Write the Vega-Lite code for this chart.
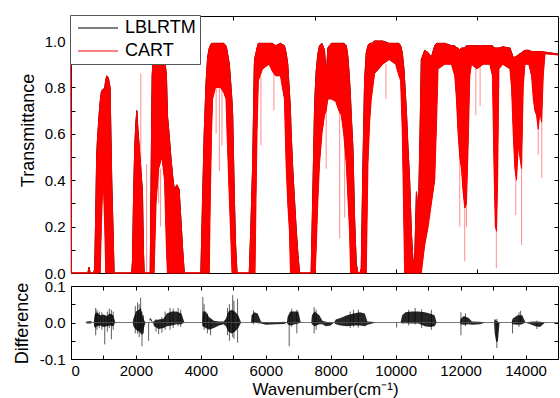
{
  "$schema": "https://vega.github.io/schema/vega-lite/v6.json",
  "padding": {"left": 12, "top": 14, "right": 0, "bottom": 0},
  "bounds": "flush",
  "spacing": 13,
  "config": {
    "font": "Liberation Sans",
    "view": {"stroke": "black", "strokeWidth": 1},
    "axis": {
      "grid": false, "domain": false, "tickColor": "black", "tickSize": -4, "tickWidth": 1,
      "labelFont": "Liberation Sans", "labelFontSize": 15, "labelColor": "black",
      "titleFont": "Liberation Sans", "titleFontSize": 18, "titleFontWeight": "normal", "titleColor": "black"
    }
  },
  "datasets": {
    "core": [
      {"x": 0, "lo": 0, "hi": 1.0}, {"x": 12, "lo": 0, "hi": 0}, {"x": 520, "lo": 0, "hi": 0}, {"x": 555, "lo": 0, "hi": 0.025}, {"x": 590, "lo": 0, "hi": 0},
      {"x": 700, "lo": 0, "hi": 0}, {"x": 730, "lo": 0, "hi": 0.02}, {"x": 761, "lo": 0, "hi": 0.25}, {"x": 790, "lo": 0, "hi": 0.5}, {"x": 813, "lo": 0, "hi": 0.57},
      {"x": 864, "lo": 0, "hi": 0.68}, {"x": 900, "lo": 0, "hi": 0.74}, {"x": 936, "lo": 0.2, "hi": 0.78}, {"x": 970, "lo": 0.35, "hi": 0.79}, {"x": 998, "lo": 0.38, "hi": 0.79},
      {"x": 1039, "lo": 0.2, "hi": 0.8}, {"x": 1070, "lo": 0, "hi": 0.83}, {"x": 1100, "lo": 0, "hi": 0.85}, {"x": 1152, "lo": 0, "hi": 0.84}, {"x": 1203, "lo": 0, "hi": 0.8},
      {"x": 1224, "lo": 0, "hi": 0.64}, {"x": 1255, "lo": 0, "hi": 0.4}, {"x": 1296, "lo": 0, "hi": 0.18}, {"x": 1327, "lo": 0, "hi": 0},
      {"x": 1870, "lo": 0, "hi": 0}, {"x": 1893, "lo": 0, "hi": 0.05}, {"x": 1930, "lo": 0, "hi": 0.35}, {"x": 1965, "lo": 0, "hi": 0.55}, {"x": 2000, "lo": 0, "hi": 0.65},
      {"x": 2027, "lo": 0, "hi": 0.7}, {"x": 2060, "lo": 0, "hi": 0.62}, {"x": 2098, "lo": 0, "hi": 0.55}, {"x": 2150, "lo": 0, "hi": 0.45}, {"x": 2201, "lo": 0, "hi": 0.35},
      {"x": 2230, "lo": 0, "hi": 0.1}, {"x": 2253, "lo": 0, "hi": 0},
      {"x": 2440, "lo": 0, "hi": 0}, {"x": 2470, "lo": 0, "hi": 0.45}, {"x": 2500, "lo": 0, "hi": 0.85}, {"x": 2540, "lo": 0, "hi": 0.95}, {"x": 2560, "lo": 0, "hi": 0.97},
      {"x": 2620, "lo": 0.3, "hi": 0.97}, {"x": 2700, "lo": 0.45, "hi": 0.97}, {"x": 2800, "lo": 0.5, "hi": 0.97}, {"x": 2880, "lo": 0.4, "hi": 0.93}, {"x": 2940, "lo": 0.1, "hi": 0.85},
      {"x": 2970, "lo": 0, "hi": 0.68}, {"x": 3020, "lo": 0, "hi": 0.6}, {"x": 3076, "lo": 0, "hi": 0.5}, {"x": 3130, "lo": 0, "hi": 0.42}, {"x": 3180, "lo": 0, "hi": 0.36},
      {"x": 3260, "lo": 0, "hi": 0.38}, {"x": 3330, "lo": 0, "hi": 0.36}, {"x": 3390, "lo": 0, "hi": 0.22}, {"x": 3440, "lo": 0, "hi": 0.1}, {"x": 3490, "lo": 0, "hi": 0},
      {"x": 4000, "lo": 0, "hi": 0}, {"x": 4053, "lo": 0, "hi": 0.32}, {"x": 4105, "lo": 0, "hi": 0.61}, {"x": 4160, "lo": 0, "hi": 0.82}, {"x": 4208, "lo": 0, "hi": 0.93},
      {"x": 4259, "lo": 0, "hi": 0.97}, {"x": 4290, "lo": 0.32, "hi": 0.98}, {"x": 4331, "lo": 0.61, "hi": 0.99}, {"x": 4362, "lo": 0.75, "hi": 0.99}, {"x": 4450, "lo": 0.8, "hi": 0.99},
      {"x": 4600, "lo": 0.8, "hi": 0.99}, {"x": 4700, "lo": 0.78, "hi": 0.99}, {"x": 4774, "lo": 0.75, "hi": 0.98}, {"x": 4805, "lo": 0.61, "hi": 0.96}, {"x": 4877, "lo": 0.32, "hi": 0.9},
      {"x": 4930, "lo": 0.12, "hi": 0.8}, {"x": 4959, "lo": 0, "hi": 0.74}, {"x": 4980, "lo": 0, "hi": 0.68}, {"x": 5032, "lo": 0, "hi": 0.32}, {"x": 5070, "lo": 0, "hi": 0.12},
      {"x": 5114, "lo": 0, "hi": 0},
      {"x": 5490, "lo": 0, "hi": 0}, {"x": 5540, "lo": 0, "hi": 0.2}, {"x": 5596, "lo": 0, "hi": 0.47}, {"x": 5647, "lo": 0, "hi": 0.9}, {"x": 5668, "lo": 0, "hi": 0.93},
      {"x": 5699, "lo": 0.32, "hi": 0.95}, {"x": 5730, "lo": 0.61, "hi": 0.97}, {"x": 5771, "lo": 0.83, "hi": 0.99}, {"x": 5900, "lo": 0.88, "hi": 0.99}, {"x": 6100, "lo": 0.9, "hi": 0.99},
      {"x": 6200, "lo": 0.87, "hi": 0.99}, {"x": 6300, "lo": 0.85, "hi": 0.98}, {"x": 6450, "lo": 0.85, "hi": 0.99}, {"x": 6573, "lo": 0.75, "hi": 0.98}, {"x": 6625, "lo": 0.47, "hi": 0.95},
      {"x": 6676, "lo": 0.3, "hi": 0.9}, {"x": 6728, "lo": 0.18, "hi": 0.78}, {"x": 6759, "lo": 0, "hi": 0.7}, {"x": 6779, "lo": 0, "hi": 0.61}, {"x": 6830, "lo": 0, "hi": 0.45},
      {"x": 6882, "lo": 0, "hi": 0.32}, {"x": 6940, "lo": 0, "hi": 0.18}, {"x": 6990, "lo": 0, "hi": 0.08}, {"x": 7040, "lo": 0, "hi": 0},
      {"x": 7397, "lo": 0, "hi": 0}, {"x": 7449, "lo": 0, "hi": 0.35}, {"x": 7500, "lo": 0, "hi": 0.7}, {"x": 7520, "lo": 0, "hi": 0.78}, {"x": 7552, "lo": 0.1, "hi": 0.87},
      {"x": 7600, "lo": 0.3, "hi": 0.94}, {"x": 7654, "lo": 0.47, "hi": 0.98}, {"x": 7730, "lo": 0.6, "hi": 0.99}, {"x": 7808, "lo": 0.68, "hi": 0.96}, {"x": 7860, "lo": 0.7, "hi": 0.84},
      {"x": 7911, "lo": 0.75, "hi": 0.97}, {"x": 8017, "lo": 0.75, "hi": 0.99}, {"x": 8150, "lo": 0.74, "hi": 0.99}, {"x": 8250, "lo": 0.7, "hi": 0.99}, {"x": 8325, "lo": 0.68, "hi": 0.99},
      {"x": 8400, "lo": 0.6, "hi": 0.99}, {"x": 8480, "lo": 0.47, "hi": 0.98}, {"x": 8530, "lo": 0.32, "hi": 0.93}, {"x": 8580, "lo": 0.18, "hi": 0.83}, {"x": 8611, "lo": 0, "hi": 0.75},
      {"x": 8632, "lo": 0, "hi": 0.68}, {"x": 8683, "lo": 0, "hi": 0.54}, {"x": 8734, "lo": 0, "hi": 0.24}, {"x": 8786, "lo": 0, "hi": 0.04}, {"x": 8837, "lo": 0, "hi": 0},
      {"x": 8900, "lo": 0, "hi": 0}, {"x": 8940, "lo": 0, "hi": 0.02}, {"x": 8992, "lo": 0, "hi": 0.47}, {"x": 9043, "lo": 0, "hi": 0.83}, {"x": 9095, "lo": 0, "hi": 0.95},
      {"x": 9146, "lo": 0.47, "hi": 0.98}, {"x": 9198, "lo": 0.65, "hi": 0.99}, {"x": 9249, "lo": 0.75, "hi": 0.99}, {"x": 9352, "lo": 0.86, "hi": 1.0}, {"x": 9600, "lo": 0.9, "hi": 1.0},
      {"x": 9800, "lo": 0.92, "hi": 0.99}, {"x": 10000, "lo": 0.9, "hi": 0.99}, {"x": 10100, "lo": 0.85, "hi": 0.99}, {"x": 10152, "lo": 0.83, "hi": 0.98}, {"x": 10204, "lo": 0.61, "hi": 0.95},
      {"x": 10255, "lo": 0.18, "hi": 0.88}, {"x": 10276, "lo": 0, "hi": 0.83}, {"x": 10330, "lo": 0, "hi": 0.7}, {"x": 10379, "lo": 0, "hi": 0.54}, {"x": 10430, "lo": 0, "hi": 0.4},
      {"x": 10482, "lo": 0, "hi": 0.18}, {"x": 10530, "lo": 0, "hi": 0.06}, {"x": 10585, "lo": 0, "hi": 0.05}, {"x": 10640, "lo": 0, "hi": 0.35}, {"x": 10700, "lo": 0, "hi": 0.25},
      {"x": 10750, "lo": 0, "hi": 0.6}, {"x": 10790, "lo": 0, "hi": 0.92}, {"x": 10894, "lo": 0.12, "hi": 0.96}, {"x": 11000, "lo": 0.2, "hi": 0.95}, {"x": 11100, "lo": 0.3, "hi": 0.93},
      {"x": 11203, "lo": 0.4, "hi": 0.98}, {"x": 11260, "lo": 0.65, "hi": 0.99}, {"x": 11305, "lo": 0.88, "hi": 0.99}, {"x": 11511, "lo": 0.9, "hi": 0.99}, {"x": 11717, "lo": 0.9, "hi": 0.98},
      {"x": 11820, "lo": 0.85, "hi": 0.98}, {"x": 11871, "lo": 0.75, "hi": 0.97}, {"x": 11923, "lo": 0.6, "hi": 0.97}, {"x": 11974, "lo": 0.5, "hi": 0.96}, {"x": 12026, "lo": 0.45, "hi": 0.97},
      {"x": 12077, "lo": 0.35, "hi": 0.97}, {"x": 12128, "lo": 0.28, "hi": 0.97}, {"x": 12180, "lo": 0.3, "hi": 0.98}, {"x": 12232, "lo": 0.55, "hi": 0.98}, {"x": 12283, "lo": 0.85, "hi": 0.98},
      {"x": 12335, "lo": 0.9, "hi": 0.98}, {"x": 12500, "lo": 0.88, "hi": 0.98}, {"x": 12700, "lo": 0.9, "hi": 0.98}, {"x": 12900, "lo": 0.9, "hi": 0.98}, {"x": 12980, "lo": 0.85, "hi": 0.98},
      {"x": 13030, "lo": 0.45, "hi": 0.97}, {"x": 13070, "lo": 0.2, "hi": 0.97}, {"x": 13107, "lo": 0.18, "hi": 0.97}, {"x": 13140, "lo": 0.4, "hi": 0.97}, {"x": 13180, "lo": 0.88, "hi": 0.97},
      {"x": 13300, "lo": 0.9, "hi": 0.975}, {"x": 13518, "lo": 0.88, "hi": 0.97}, {"x": 13569, "lo": 0.8, "hi": 0.95}, {"x": 13621, "lo": 0.6, "hi": 0.93}, {"x": 13672, "lo": 0.45, "hi": 0.93},
      {"x": 13723, "lo": 0.4, "hi": 0.935}, {"x": 13775, "lo": 0.55, "hi": 0.94}, {"x": 13826, "lo": 0.5, "hi": 0.945}, {"x": 13877, "lo": 0.45, "hi": 0.95}, {"x": 13929, "lo": 0.8, "hi": 0.955},
      {"x": 13981, "lo": 0.9, "hi": 0.96}, {"x": 14100, "lo": 0.9, "hi": 0.96}, {"x": 14186, "lo": 0.85, "hi": 0.955}, {"x": 14240, "lo": 0.75, "hi": 0.955}, {"x": 14289, "lo": 0.7, "hi": 0.955},
      {"x": 14340, "lo": 0.68, "hi": 0.955}, {"x": 14392, "lo": 0.62, "hi": 0.955}, {"x": 14443, "lo": 0.7, "hi": 0.955}, {"x": 14495, "lo": 0.65, "hi": 0.955}, {"x": 14546, "lo": 0.85, "hi": 0.953},
      {"x": 14600, "lo": 0.945, "hi": 0.952}, {"x": 15000, "lo": 0.94, "hi": 0.944}
    ],
    "tspk": [
      {"x": 2150, "lo": 0.3, "hi": 0.86}, {"x": 2330, "lo": 0, "hi": 0.47}, {"x": 2700, "lo": 0.3, "hi": 0.55}, {"x": 2760, "lo": 0.2, "hi": 0.45},
      {"x": 4470, "lo": 0.6, "hi": 0.8}, {"x": 4570, "lo": 0.44, "hi": 0.8}, {"x": 4650, "lo": 0.55, "hi": 0.8}, {"x": 5850, "lo": 0.55, "hi": 0.85},
      {"x": 6250, "lo": 0.7, "hi": 0.88}, {"x": 7860, "lo": 0.45, "hi": 0.75}, {"x": 8275, "lo": 0.15, "hi": 0.7}, {"x": 8430, "lo": 0.24, "hi": 0.6},
      {"x": 9700, "lo": 0.75, "hi": 0.9}, {"x": 11974, "lo": 0.2, "hi": 0.5}, {"x": 12128, "lo": 0.05, "hi": 0.3}, {"x": 12180, "lo": 0.2, "hi": 0.35},
      {"x": 12470, "lo": 0.68, "hi": 0.92}, {"x": 12600, "lo": 0.72, "hi": 0.92}, {"x": 13100, "lo": 0.02, "hi": 0.2}, {"x": 13700, "lo": 0.25, "hi": 0.5},
      {"x": 13880, "lo": 0.12, "hi": 0.5}, {"x": 14390, "lo": 0.51, "hi": 0.7}, {"x": 14500, "lo": 0.41, "hi": 0.7}
    ],
    "diff": [
      {"x": 0, "dlo": 0, "dhi": 0}, {"x": 470, "dlo": 0, "dhi": 0}, {"x": 480, "dlo": -0.003, "dhi": 0.003}, {"x": 620, "dlo": -0.003, "dhi": 0.004}, {"x": 640, "dlo": 0, "dhi": 0},
      {"x": 700, "dlo": 0, "dhi": 0}, {"x": 712, "dlo": -0.01, "dhi": 0.01}, {"x": 740, "dlo": -0.015, "dhi": 0.025}, {"x": 800, "dlo": -0.01, "dhi": 0.028}, {"x": 900, "dlo": -0.008, "dhi": 0.02},
      {"x": 1000, "dlo": -0.012, "dhi": 0.022}, {"x": 1100, "dlo": -0.01, "dhi": 0.018}, {"x": 1200, "dlo": -0.008, "dhi": 0.025}, {"x": 1300, "dlo": -0.01, "dhi": 0.02}, {"x": 1367, "dlo": 0, "dhi": 0},
      {"x": 1900, "dlo": 0, "dhi": 0}, {"x": 1920, "dlo": -0.01, "dhi": 0.01}, {"x": 2000, "dlo": -0.02, "dhi": 0.03}, {"x": 2100, "dlo": -0.025, "dhi": 0.035}, {"x": 2150, "dlo": -0.03, "dhi": 0.04},
      {"x": 2200, "dlo": -0.035, "dhi": 0.02}, {"x": 2260, "dlo": -0.01, "dhi": 0.005}, {"x": 2300, "dlo": 0, "dhi": 0}, {"x": 2400, "dlo": 0, "dhi": 0}, {"x": 2430, "dlo": 0.008, "dhi": 0.013},
      {"x": 2480, "dlo": 0.003, "dhi": 0.008}, {"x": 2520, "dlo": 0, "dhi": 0}, {"x": 2560, "dlo": -0.01, "dhi": 0.005}, {"x": 2700, "dlo": -0.018, "dhi": 0.008}, {"x": 2850, "dlo": -0.015, "dhi": 0.01},
      {"x": 2950, "dlo": -0.01, "dhi": 0.025}, {"x": 3100, "dlo": -0.008, "dhi": 0.03}, {"x": 3250, "dlo": -0.005, "dhi": 0.03}, {"x": 3400, "dlo": -0.005, "dhi": 0.025}, {"x": 3495, "dlo": 0, "dhi": 0},
      {"x": 4040, "dlo": 0, "dhi": 0}, {"x": 4060, "dlo": -0.01, "dhi": 0.03}, {"x": 4150, "dlo": -0.015, "dhi": 0.03}, {"x": 4250, "dlo": -0.02, "dhi": 0.015}, {"x": 4400, "dlo": -0.015, "dhi": 0.005},
      {"x": 4560, "dlo": -0.008, "dhi": 0.003}, {"x": 4700, "dlo": -0.005, "dhi": 0.003}, {"x": 4770, "dlo": -0.01, "dhi": 0.01}, {"x": 4850, "dlo": -0.025, "dhi": 0.03}, {"x": 4950, "dlo": -0.03, "dhi": 0.035},
      {"x": 5050, "dlo": -0.025, "dhi": 0.03}, {"x": 5150, "dlo": -0.015, "dhi": 0.02}, {"x": 5240, "dlo": 0, "dhi": 0}, {"x": 5545, "dlo": 0, "dhi": 0}, {"x": 5560, "dlo": -0.002, "dhi": 0.02},
      {"x": 5650, "dlo": 0, "dhi": 0.028}, {"x": 5750, "dlo": -0.002, "dhi": 0.025}, {"x": 5855, "dlo": -0.003, "dhi": 0.002}, {"x": 6000, "dlo": -0.006, "dhi": 0.001}, {"x": 6300, "dlo": -0.005, "dhi": 0.001},
      {"x": 6570, "dlo": -0.004, "dhi": 0.002}, {"x": 6650, "dlo": 0, "dhi": 0}, {"x": 6670, "dlo": -0.005, "dhi": 0.015}, {"x": 6750, "dlo": -0.008, "dhi": 0.03}, {"x": 6900, "dlo": -0.005, "dhi": 0.03},
      {"x": 7000, "dlo": -0.003, "dhi": 0.03}, {"x": 7078, "dlo": 0, "dhi": 0}, {"x": 7400, "dlo": 0, "dhi": 0}, {"x": 7420, "dlo": -0.005, "dhi": 0.02}, {"x": 7500, "dlo": -0.01, "dhi": 0.03},
      {"x": 7650, "dlo": -0.005, "dhi": 0.02}, {"x": 7744, "dlo": -0.005, "dhi": 0.005}, {"x": 7850, "dlo": -0.01, "dhi": 0.002}, {"x": 8000, "dlo": -0.008, "dhi": 0}, {"x": 8100, "dlo": 0, "dhi": 0},
      {"x": 8156, "dlo": -0.005, "dhi": 0.008}, {"x": 8300, "dlo": -0.008, "dhi": 0.012}, {"x": 8500, "dlo": -0.01, "dhi": 0.02}, {"x": 8700, "dlo": -0.008, "dhi": 0.025}, {"x": 8900, "dlo": -0.008, "dhi": 0.028},
      {"x": 9050, "dlo": -0.01, "dhi": 0.025}, {"x": 9130, "dlo": -0.006, "dhi": 0.003}, {"x": 9280, "dlo": -0.003, "dhi": 0.002}, {"x": 9400, "dlo": 0, "dhi": 0}, {"x": 10150, "dlo": 0, "dhi": 0},
      {"x": 10200, "dlo": -0.003, "dhi": 0.02}, {"x": 10300, "dlo": -0.002, "dhi": 0.028}, {"x": 10500, "dlo": -0.003, "dhi": 0.03}, {"x": 10700, "dlo": -0.003, "dhi": 0.03}, {"x": 10900, "dlo": -0.01, "dhi": 0.028},
      {"x": 11050, "dlo": -0.012, "dhi": 0.025}, {"x": 11200, "dlo": -0.01, "dhi": 0.02}, {"x": 11260, "dlo": 0, "dhi": 0}, {"x": 11980, "dlo": 0, "dhi": 0}, {"x": 12000, "dlo": -0.005, "dhi": 0.01},
      {"x": 12100, "dlo": -0.006, "dhi": 0.018}, {"x": 12250, "dlo": -0.005, "dhi": 0.012}, {"x": 12351, "dlo": -0.006, "dhi": 0.003}, {"x": 12600, "dlo": -0.005, "dhi": 0.002}, {"x": 12760, "dlo": 0, "dhi": 0},
      {"x": 13030, "dlo": 0, "dhi": 0}, {"x": 13050, "dlo": -0.03, "dhi": 0.01}, {"x": 13100, "dlo": -0.055, "dhi": 0.005}, {"x": 13150, "dlo": -0.05, "dhi": 0.002}, {"x": 13200, "dlo": 0, "dhi": 0},
      {"x": 13570, "dlo": 0, "dhi": 0}, {"x": 13600, "dlo": -0.005, "dhi": 0.01}, {"x": 13750, "dlo": -0.006, "dhi": 0.02}, {"x": 13900, "dlo": -0.005, "dhi": 0.02}, {"x": 14000, "dlo": 0, "dhi": 0},
      {"x": 14150, "dlo": -0.005, "dhi": 0.002}, {"x": 14300, "dlo": -0.01, "dhi": 0.003}, {"x": 14450, "dlo": -0.012, "dhi": 0.002}, {"x": 14600, "dlo": 0, "dhi": 0}, {"x": 15000, "dlo": 0, "dhi": 0}
    ],
    "dspk": [
      {"x": 760, "dlo": -0.035, "dhi": 0.04}, {"x": 800, "dlo": -0.02, "dhi": 0.035}, {"x": 870, "dlo": -0.015, "dhi": 0.03}, {"x": 950, "dlo": -0.02, "dhi": 0.028},
      {"x": 1039, "dlo": -0.06, "dhi": 0.02}, {"x": 1120, "dlo": -0.025, "dhi": 0.03}, {"x": 1180, "dlo": -0.015, "dhi": 0.038}, {"x": 1244, "dlo": -0.046, "dhi": 0.035},
      {"x": 1300, "dlo": -0.02, "dhi": 0.03}, {"x": 1980, "dlo": -0.03, "dhi": 0.045}, {"x": 2050, "dlo": -0.03, "dhi": 0.055}, {"x": 2100, "dlo": -0.04, "dhi": 0.05},
      {"x": 2145, "dlo": -0.02, "dhi": 0.068}, {"x": 2186, "dlo": -0.065, "dhi": 0.03}, {"x": 2230, "dlo": -0.03, "dhi": 0.02}, {"x": 2390, "dlo": -0.05, "dhi": 0},
      {"x": 2620, "dlo": -0.025, "dhi": 0.01}, {"x": 2700, "dlo": -0.032, "dhi": 0}, {"x": 2800, "dlo": -0.028, "dhi": 0.015}, {"x": 2900, "dlo": -0.02, "dhi": 0.03},
      {"x": 3050, "dlo": -0.02, "dhi": 0.04}, {"x": 3150, "dlo": -0.015, "dhi": 0.038}, {"x": 3300, "dlo": -0.01, "dhi": 0.04}, {"x": 3380, "dlo": -0.012, "dhi": 0.035},
      {"x": 4060, "dlo": -0.01, "dhi": 0.07}, {"x": 4100, "dlo": -0.02, "dhi": 0.05}, {"x": 4200, "dlo": -0.03, "dhi": 0.025}, {"x": 4300, "dlo": -0.035, "dhi": 0.01},
      {"x": 4820, "dlo": -0.035, "dhi": 0.04}, {"x": 4880, "dlo": -0.05, "dhi": 0.05}, {"x": 4980, "dlo": -0.04, "dhi": 0.075}, {"x": 5020, "dlo": -0.045, "dhi": 0.06},
      {"x": 5130, "dlo": -0.055, "dhi": 0.065}, {"x": 5620, "dlo": -0.005, "dhi": 0.033}, {"x": 6720, "dlo": -0.065, "dhi": 0.02}, {"x": 6800, "dlo": -0.012, "dhi": 0.038},
      {"x": 6956, "dlo": -0.03, "dhi": 0.035}, {"x": 7488, "dlo": -0.03, "dhi": 0.042}, {"x": 7550, "dlo": -0.02, "dhi": 0.035}, {"x": 8600, "dlo": -0.015, "dhi": 0.03},
      {"x": 8700, "dlo": -0.012, "dhi": 0.035}, {"x": 8850, "dlo": -0.014, "dhi": 0.035}, {"x": 10030, "dlo": -0.014, "dhi": 0}, {"x": 10400, "dlo": -0.008, "dhi": 0.035},
      {"x": 10600, "dlo": -0.005, "dhi": 0.04}, {"x": 10800, "dlo": -0.015, "dhi": 0.036}, {"x": 11100, "dlo": -0.02, "dhi": 0.035}, {"x": 12010, "dlo": -0.035, "dhi": 0.028},
      {"x": 12150, "dlo": -0.01, "dhi": 0.025}, {"x": 13118, "dlo": -0.07, "dhi": 0.01}, {"x": 13600, "dlo": -0.03, "dhi": 0.005}, {"x": 13800, "dlo": -0.012, "dhi": 0.028},
      {"x": 13850, "dlo": -0.005, "dhi": 0.032}, {"x": 14350, "dlo": -0.018, "dhi": 0.005}
    ]
  },
  "vconcat": [
    {
      "width": 487,
      "height": 257,
      "layer": [
        {
          "data": {"name": "core"},
          "mark": {"type": "area", "color": "black"},
          "encoding": {
            "x": {"field": "x", "type": "quantitative", "scale": {"domain": [0, 15000], "nice": false, "zero": false},
                  "axis": {"orient": "bottom", "values": [2500, 5000, 7500, 10000, 12500], "labels": false, "title": null}},
            "y": {"field": "lo", "type": "quantitative", "scale": {"domain": [0, 1.108], "nice": false, "zero": false},
                  "axis": {"orient": "left", "values": [0, 0.1, 0.2, 0.3, 0.4, 0.5, 0.6, 0.7, 0.8, 0.9, 1.0],
                           "labelExpr": "round(datum.value*10) % 2 == 0 ? format(datum.value, '.1f') : ''",
                           "labelPadding": 10, "title": "Transmittance", "titleAngle": 270, "titleX": -38, "titleY": 114,
                           "titleBaseline": "alphabetic", "titleAlign": "center"}},
            "y2": {"field": "hi"}
          }
        },
        {
          "data": {"name": "core"},
          "mark": {"type": "line", "strokeWidth": 1},
          "encoding": {
            "x": {"field": "x", "type": "quantitative", "axis": null},
            "y": {"field": "hi", "type": "quantitative", "axis": null},
            "color": {"datum": "LBLRTM", "scale": {"domain": ["LBLRTM", "CART"], "range": ["black", "red"]},
                      "legend": {"orient": "none", "legendX": -1, "legendY": -1, "title": null,
                                 "symbolType": "M-1,0H7", "symbolSize": 100, "symbolStrokeWidth": 1,
                                 "labelFontSize": 18, "labelFont": "Liberation Sans", "labelColor": "black", "labelOffset": 33,
                                 "padding": 4, "rowPadding": 5, "strokeColor": "#555", "fillColor": "white"}}
          }
        },
        {
          "data": {"name": "core"},
          "mark": {"type": "area", "color": "red"},
          "encoding": {
            "x": {"field": "x", "type": "quantitative",
                  "axis": {"orient": "top", "values": [2500, 5000, 7500, 10000, 12500], "labels": false, "title": null}},
            "y": {"field": "lo", "type": "quantitative",
                  "axis": {"orient": "right", "values": [0, 0.1, 0.2, 0.3, 0.4, 0.5, 0.6, 0.7, 0.8, 0.9, 1.0], "labels": false, "title": null}},
            "y2": {"field": "hi"}
          }
        },
        {
          "data": {"name": "core"},
          "mark": {"type": "line", "strokeWidth": 1},
          "encoding": {
            "x": {"field": "x", "type": "quantitative", "axis": null},
            "y": {"field": "hi", "type": "quantitative", "axis": null},
            "color": {"datum": "CART"}
          }
        },
        {
          "data": {"name": "core"},
          "mark": {"type": "line", "strokeWidth": 1, "color": "red"},
          "encoding": {
            "x": {"field": "x", "type": "quantitative", "axis": null},
            "y": {"field": "lo", "type": "quantitative", "axis": null}
          }
        },
        {
          "data": {"name": "tspk"},
          "mark": {"type": "rule", "color": "red", "opacity": 0.45, "strokeWidth": 1},
          "encoding": {
            "x": {"field": "x", "type": "quantitative", "axis": null},
            "y": {"field": "lo", "type": "quantitative", "axis": null},
            "y2": {"field": "hi"}
          }
        }
      ],
      "resolve": {"axis": {"x": "independent", "y": "independent"}}
    },
    {
      "width": 487,
      "height": 73,
      "layer": [
        {
          "data": {"name": "diff"},
          "mark": {"type": "area", "color": "black", "opacity": 0.85},
          "encoding": {
            "x": {"field": "x", "type": "quantitative", "scale": {"domain": [0, 15000], "nice": false, "zero": false},
                  "axis": {"orient": "bottom", "values": [0, 1000, 2000, 3000, 4000, 5000, 6000, 7000, 8000, 9000, 10000, 11000, 12000, 13000, 14000, 15000],
                           "format": "d", "labelExpr": "datum.value % 2000 == 0 ? datum.label : ''", "labelPadding": 8,
                           "title": "Wavenumber(cm⁻¹)", "titleFontSize": 17, "titleX": 254, "titleY": 35.5, "titleBaseline": "alphabetic", "titleAlign": "center"}},
            "y": {"field": "dlo", "type": "quantitative", "scale": {"domain": [-0.1, 0.1], "nice": false, "zero": false},
                  "axis": {"orient": "left", "values": [-0.1, -0.05, 0, 0.05, 0.1],
                           "labelExpr": "abs(datum.value) < 0.001 ? '0.0' : (abs(abs(datum.value) - 0.1) < 0.001 ? (datum.value < 0 ? '-0.1' : '0.1') : '')",
                           "labelPadding": 10, "title": "Difference", "titleAngle": 270, "titleX": -44, "titleY": 37,
                           "titleBaseline": "alphabetic", "titleAlign": "center"}},
            "y2": {"field": "dhi"}
          }
        },
        {
          "data": {"name": "dspk"},
          "mark": {"type": "rule", "color": "black", "opacity": 0.8, "strokeWidth": 0.8},
          "encoding": {
            "x": {"field": "x", "type": "quantitative",
                  "axis": {"orient": "top", "values": [1000, 2000, 3000, 4000, 5000, 6000, 7000, 8000, 9000, 10000, 11000, 12000, 13000, 14000], "labels": false, "title": null}},
            "y": {"field": "dlo", "type": "quantitative",
                  "axis": {"orient": "right", "values": [-0.05, 0, 0.05], "labels": false, "title": null}},
            "y2": {"field": "dhi"}
          }
        },
        {
          "data": {"values": [{}]},
          "mark": {"type": "rule", "color": "#555", "strokeWidth": 0.8},
          "encoding": {
            "x": {"datum": 450, "type": "quantitative", "axis": null},
            "x2": {"datum": 15000},
            "y": {"datum": 0, "type": "quantitative", "axis": null}
          }
        }
      ],
      "resolve": {"axis": {"x": "independent", "y": "independent"}}
    }
  ]
}
